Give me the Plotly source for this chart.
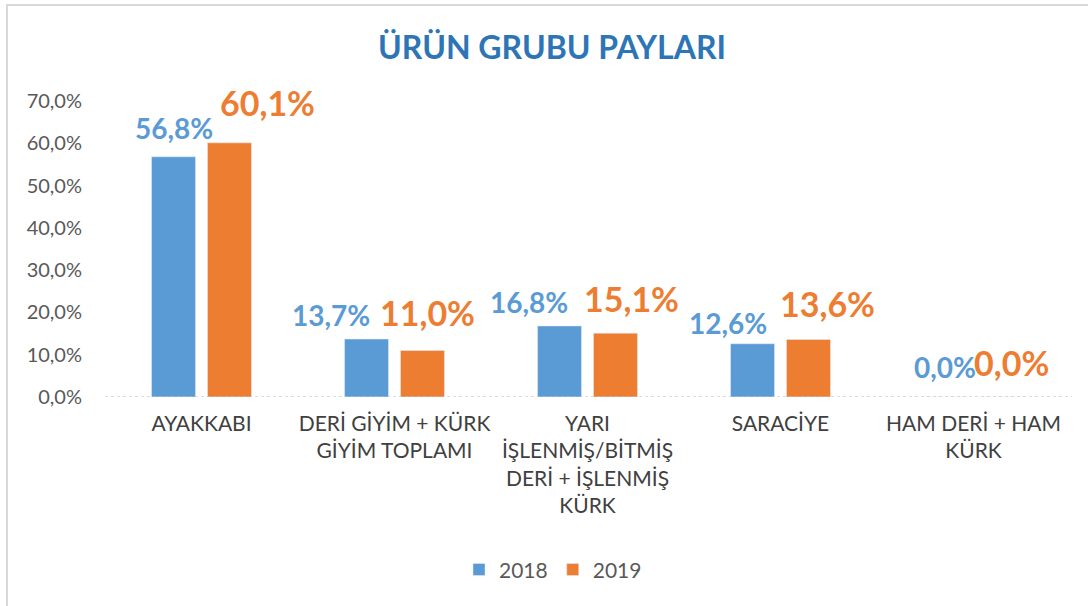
import plotly.graph_objects as go

categories = [
    "AYAKKABI",
    "DERİ GİYİM + KÜRK<br>GİYİM TOPLAMI",
    "YARI<br>İŞLENMİŞ/BİTMİŞ<br>DERİ + İŞLENMİŞ<br>KÜRK",
    "SARACİYE",
    "HAM DERİ + HAM<br>KÜRK",
]
share_2018 = [56.8, 13.7, 16.8, 12.6, 0.0]
share_2019 = [60.1, 11.0, 15.1, 13.6, 0.0]
y_ticks = [0, 10, 20, 30, 40, 50, 60, 70]

BLUE = "#5B9BD5"
ORANGE = "#ED7D31"
FONT = "Lato"

# manual label nudges (px) relative to the bar top, Excel-style placement
shift_2018 = [(0, 29), (-36, 24), (-31, 24), (-25, 21), (-1, 30)]
shift_2019 = [(38, 40), (5, 38), (16, 35), (19, 36), (10, 35)]
BAR_OFFSET = 0.145  # half group width in category units (bargap/bargroupgap below)


def fmt(v):
    return f"{v:.1f}".replace(".", ",") + "%"


fig = go.Figure()
fig.add_trace(go.Bar(name="2018", x=categories, y=share_2018, marker_color=BLUE))
fig.add_trace(go.Bar(name="2019", x=categories, y=share_2019, marker_color=ORANGE))

annotations = []
for i, cat in enumerate(categories):
    for vals, shifts, col, size, offs in (
        (share_2018, shift_2018, BLUE, 28, -BAR_OFFSET),
        (share_2019, shift_2019, ORANGE, 34, BAR_OFFSET),
    ):
        annotations.append(dict(
            x=i + offs, y=vals[i], xref="x", yref="y",
            text=f"<b>{fmt(vals[i])}</b>", showarrow=False,
            xanchor="center", yanchor="middle",
            xshift=shifts[i][0], yshift=shifts[i][1],
            font=dict(family=FONT, size=size, color=col),
        ))

fig.update_layout(
    width=1088, height=606,
    margin=dict(l=105, r=18, t=101, b=209),
    paper_bgcolor="white", plot_bgcolor="white",
    barmode="group", bargap=0.42, bargroupgap=0.214,
    title=dict(
        text="<b>ÜRÜN GRUBU PAYLARI</b>",
        x=552 / 1088, xanchor="center", y=1 - 48 / 606, yanchor="middle",
        font=dict(family=FONT, size=32, color="#2E75B6"),
    ),
    font=dict(family=FONT, color="#595959"),
    legend=dict(
        orientation="h", x=(553 - 105) / 965, xanchor="center",
        y=-0.584, yanchor="middle",
        font=dict(family=FONT, size=21, color="#595959"),
        itemwidth=30,
    ),
    annotations=annotations,
    shapes=[
        dict(type="line", xref="paper", yref="y", x0=0.0, x1=1.002, y0=0, y1=0,
             line=dict(color="#BFB4CC", width=1, dash="dot")),
        dict(type="rect", xref="paper", yref="paper",
             x0=(7 - 105) / 965, x1=(1100 - 105) / 965,
             y0=(397 - 620) / 296, y1=(397 - 5) / 296,
             line=dict(color="#D9D9D9", width=2)),
    ],
)
fig.update_xaxes(
    showgrid=False, showline=False, ticks="",
    tickfont=dict(family=FONT, size=21, color="#404040"),
    ticklabelstandoff=12,
)
fig.update_yaxes(
    range=[0, 70], tickvals=y_ticks, ticktext=[fmt(v) for v in y_ticks],
    showgrid=False, zeroline=False, showline=False,
    tickfont=dict(family=FONT, size=20, color="#595959"),
    ticklabelstandoff=22,
)

fig.write_html(
    "out.html",
    config={"displayModeBar": False},
    post_script="document.body.style.margin='0';",
)
